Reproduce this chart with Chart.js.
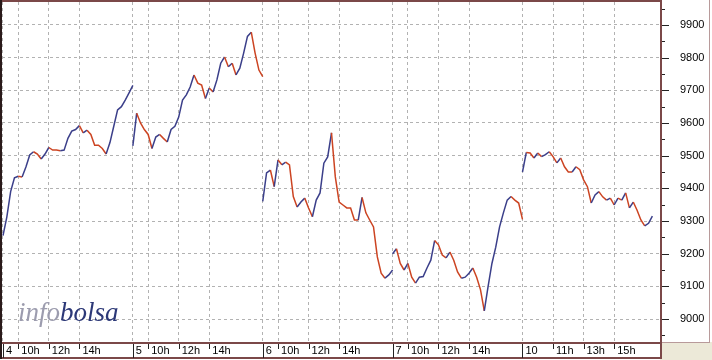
<!DOCTYPE html>
<html>
<head>
<meta charset="utf-8">
<script src="https://cdn.jsdelivr.net/npm/chart.js@4.4.1/dist/chart.umd.min.js"></script>
<style>
  html, body { margin: 0; padding: 0; background: #fff; }
  #wrap { width: 712px; height: 360px; }
</style>
</head>
<body>
<div id="wrap"><canvas id="grafico" width="712" height="360"></canvas></div>
<script>
// === Dados ===
const dias = ["4", "5", "6", "7", "10"];
const horasPorDia = [
  ["10h", "12h", "14h"],
  ["10h", "12h", "14h"],
  ["10h", "12h", "14h"],
  ["10h", "12h", "14h"],
  ["11h", "13h", "15h"],
];
const valoresEixoY = [9000, 9100, 9200, 9300, 9400, 9500, 9600, 9700, 9800, 9900];

// cotação a cada 15 minutos, das 9h às 17h30
const dia4 = [9255, 9312, 9390, 9432, 9437, 9435, 9465, 9502, 9512, 9505, 9490, 9505, 9525, 9517, 9517, 9515, 9517, 9553,
  9575, 9580, 9592, 9570, 9578, 9565, 9532, 9532, 9522, 9505, 9540, 9590, 9640, 9650, 9670, 9692, 9715];
const dia5 = [9530, 9630, 9600, 9580, 9565, 9522, 9557, 9565, 9553, 9542, 9580, 9590, 9618, 9670, 9686, 9710, 9747, 9722,
  9716, 9675, 9707, 9695, 9732, 9783, 9802, 9772, 9783, 9747, 9768, 9814, 9865, 9878, 9814, 9762, 9742];
const dia6 = [9360, 9447, 9456, 9405, 9487, 9472, 9480, 9472, 9375, 9343, 9358, 9370, 9340, 9313, 9364, 9386, 9477, 9496,
  9570, 9435, 9358, 9349, 9340, 9340, 9303, 9303, 9372, 9325, 9303, 9282, 9190, 9140, 9125, 9135, 9150];
const dia7 = [9200, 9215, 9170, 9150, 9170, 9128, 9110, 9128, 9130, 9156, 9180, 9240, 9227, 9196, 9187, 9205, 9180, 9144,
  9125, 9128, 9140, 9156, 9128, 9090, 9025, 9100, 9170, 9220, 9282, 9325, 9364, 9375, 9364, 9355, 9305];
const dia10 = [9450, 9510, 9508, 9493, 9508, 9497, 9503, 9512, 9497, 9478, 9493, 9466, 9450, 9450, 9466, 9457, 9426, 9405,
  9355, 9380, 9390, 9374, 9364, 9370, 9349, 9370, 9364, 9386, 9340, 9358, 9333, 9303, 9285, 9293, 9315];

const sessao = 8.5;   // horas por sessão
const passo = 0.25;   // 15 min
const series = [dia4, dia5, dia6, dia7, dia10];

// pontos com buraco entre sessões
const pontos = [];
series.forEach((vals, d) => {
  vals.forEach((v, i) => pontos.push({ x: d * sessao + i * passo, y: v }));
  pontos.push({ x: d * sessao + (vals.length - 1) * passo, y: null });
});

// ticks do eixo X
const ticksX = [];
dias.forEach((dia, d) => {
  ticksX.push({ value: d * sessao, label: dia, dia: true });
  horasPorDia[d].forEach(h => ticksX.push({ value: d * sessao + parseInt(h) - 9, label: h, dia: false }));
});

const corMoldura = "#7b4848";
const fonteEixo = { family: "'Liberation Sans', Arial, sans-serif", size: 11 };

// sem folga extra dos rótulos
const semFolga = s => { s.paddingTop = 0; s.paddingBottom = 0; s.paddingLeft = 0; s.paddingRight = 0; };

// === Moldura, marcas e logotipo ===
const moldura = {
  id: "moldura",
  beforeDraw(chart) {
    const { ctx } = chart;
    ctx.save();
    ctx.fillStyle = "#fff";
    ctx.fillRect(0, 0, chart.width, chart.height);
    ctx.restore();
  },
  beforeDatasetsDraw(chart) {
    const { ctx, chartArea: a } = chart;
    ctx.save();
    ctx.font = "italic 27px 'Liberation Serif', 'Times New Roman', serif";
    ctx.textBaseline = "alphabetic";
    ctx.fillStyle = "#9c9cae";
    ctx.fillText("info", a.left + 16, 321);
    const w = ctx.measureText("info").width;
    ctx.fillStyle = "#2c3877";
    ctx.fillText("bolsa", a.left + 16 + w, 321);
    ctx.restore();
  },
  afterDraw(chart) {
    const { ctx, chartArea: a, scales } = chart;
    const W = chart.width, H = chart.height;
    ctx.save();
    // canto bege
    ctx.fillStyle = "#ece9d8";
    ctx.fillRect(a.right, a.bottom, W - a.right, H - a.bottom);
    // painel do eixo Y
    ctx.strokeStyle = "#b89a9a";
    ctx.lineWidth = 1;
    ctx.beginPath();
    ctx.moveTo(W - 2.5, 0); ctx.lineTo(W - 2.5, a.bottom);
    ctx.moveTo(a.right, a.bottom + 0.5); ctx.lineTo(W - 2, a.bottom + 0.5);
    ctx.stroke();
    // moldura do gráfico
    ctx.strokeStyle = corMoldura;
    ctx.lineWidth = 2;
    ctx.beginPath();
    ctx.moveTo(0, 1); ctx.lineTo(a.right, 1);
    ctx.moveTo(a.right + 1, 0); ctx.lineTo(a.right + 1, H - 1);
    ctx.moveTo(0, a.bottom + 1); ctx.lineTo(a.right, a.bottom + 1);
    ctx.moveTo(0, H - 2); ctx.lineTo(a.right, H - 2);
    ctx.stroke();
    ctx.strokeStyle = "#2a1a1a";
    ctx.beginPath();
    ctx.moveTo(1, 0); ctx.lineTo(1, H - 1);
    ctx.stroke();
    // marcas do eixo Y
    ctx.strokeStyle = "#222";
    ctx.lineWidth = 1;
    ctx.beginPath();
    for (let v = valoresEixoY[0] - 50; v <= valoresEixoY[valoresEixoY.length - 1] + 50; v += 50) {
      const y = Math.round(scales.y.getPixelForValue(v)) + 0.5;
      if (y < a.top || y > a.bottom) continue;
      const len = v % 100 === 0 ? 7 : 3;
      ctx.moveTo(a.right + 2, y); ctx.lineTo(a.right + 2 + len, y);
    }
    ctx.stroke();
    // marcas do eixo X
    ctx.beginPath();
    ticksX.forEach(t => {
      const x = Math.round(scales.x.getPixelForValue(t.value)) + 0.5;
      ctx.moveTo(x, a.bottom + 2);
      ctx.lineTo(x, t.dia ? H - 2 : a.bottom + 7);
    });
    ctx.stroke();
    ctx.restore();
  },
};

// === Gráfico ===
new Chart(document.getElementById("grafico"), {
  type: "line",
  data: {
    datasets: [
      {
        data: pontos,
        borderColor: "#cc4422",
        borderWidth: 1.5,
        pointRadius: 0,
        tension: 0,
        spanGaps: false,
        segment: {
          borderColor: c => (c.p1.parsed.y > c.p0.parsed.y ? "#3b3f8a" : "#cc4422"),
        },
      },
    ],
  },
  options: {
    responsive: false,
    animation: false,
    events: [],
    layout: { padding: { left: 2, top: 2, right: 2, bottom: 2 } },
    plugins: { legend: { display: false }, tooltip: { enabled: false } },
    scales: {
      x: {
        type: "linear",
        min: -0.065,
        max: 43,
        afterFit: s => { s.height = 16; semFolga(s); },
        afterBuildTicks: s => { s.ticks = ticksX.map(t => ({ value: t.value })); },
        grid: { color: "#b2b2b2", lineWidth: 1, drawTicks: false },
        border: { display: false, dash: [3, 3] },
        ticks: {
          autoSkip: false,
          maxRotation: 0,
          align: "start",
          labelOffset: 3,
          padding: 2,
          color: "#000",
          font: fonteEixo,
          callback: (v, i) => ticksX[i].label,
        },
      },
      y: {
        position: "right",
        min: 8929.6,
        max: 9970.4,
        afterFit: s => { s.width = 50; semFolga(s); },
        afterBuildTicks: s => { s.ticks = valoresEixoY.map(v => ({ value: v })); },
        grid: { color: "#b2b2b2", lineWidth: 1, drawTicks: true, tickLength: 20, tickColor: "transparent" },
        border: { display: false, dash: [3, 3] },
        ticks: {
          padding: 0,
          color: "#000",
          font: fonteEixo,
          callback: v => String(v),
        },
      },
    },
  },
  plugins: [moldura],
});
</script>
</body>
</html>
